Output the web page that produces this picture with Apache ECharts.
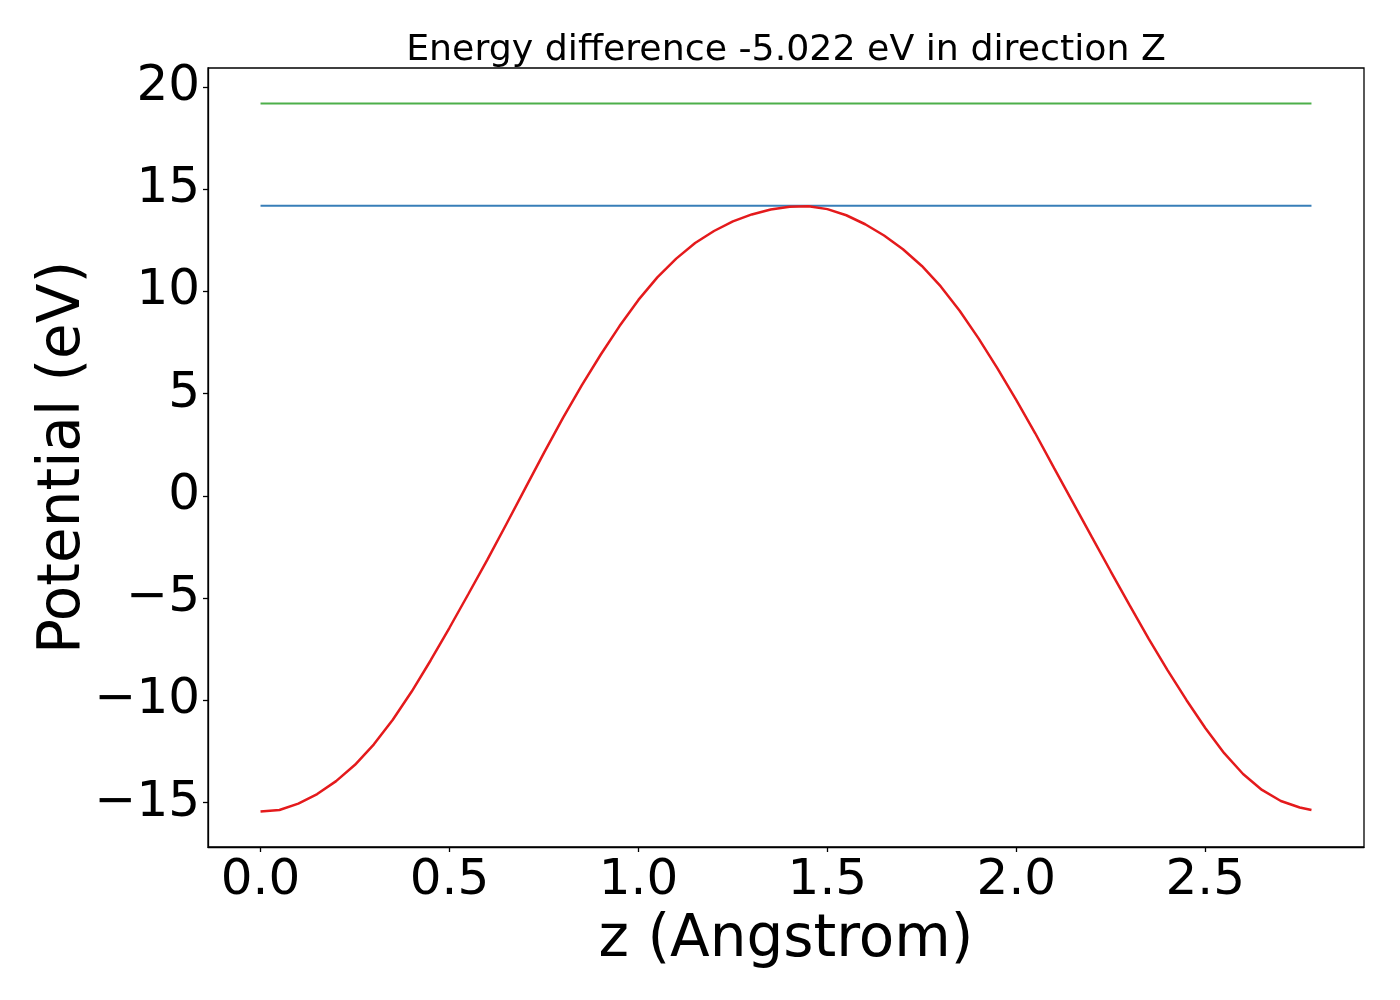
<!DOCTYPE html>
<html>
<head>
<meta charset="utf-8">
<script src="https://cdn.jsdelivr.net/npm/echarts@6/dist/echarts.min.js"></script>
<style>
  html, body { margin: 0; padding: 0; background: #fff; }
  #chart { width: 1400px; height: 1000px; }
</style>
</head>
<body>
<div id="chart"></div>
<script>
// z positions (Angstrom) and potential (eV)
var zPos = [0.00, 0.05, 0.10, 0.15, 0.20, 0.25, 0.30, 0.35, 0.40, 0.45,
            0.50, 0.55, 0.60, 0.65, 0.70, 0.75, 0.80, 0.85, 0.90, 0.95,
            1.00, 1.05, 1.10, 1.15, 1.20, 1.25, 1.30, 1.35, 1.40, 1.45,
            1.50, 1.55, 1.60, 1.65, 1.70, 1.75, 1.80, 1.85, 1.90, 1.95,
            2.00, 2.05, 2.10, 2.15, 2.20, 2.25, 2.30, 2.35, 2.40, 2.45,
            2.50, 2.55, 2.60, 2.65, 2.70, 2.75, 2.781];
var potential = [-15.44, -15.36, -15.05, -14.58, -13.95, -13.15, -12.15, -10.95, -9.57, -8.05,
                 -6.45, -4.80, -3.13, -1.40, 0.35, 2.10, 3.80, 5.40, 6.90, 8.30,
                 9.58, 10.68, 11.60, 12.36, 12.95, 13.42, 13.76, 14.00, 14.14, 14.16,
                 14.02, 13.72, 13.28, 12.73, 12.06, 11.24, 10.24, 9.05, 7.70, 6.23,
                 4.68, 3.06, 1.36, -0.33, -2.02, -3.70, -5.36, -6.98, -8.52, -9.98,
                 -11.35, -12.58, -13.60, -14.38, -14.92, -15.24, -15.36];
var barrierLevel = 14.18;
var startLevel = 19.19;
var xTicks = [0.0, 0.5, 1.0, 1.5, 2.0, 2.5];
var yTicks = [-15, -10, -5, 0, 5, 10, 15, 20];

var curve = zPos.map(function (z, i) { return [z, potential[i]]; });
var zEnd = zPos[zPos.length - 1];

var font = 'DejaVu Sans';
var chart = echarts.init(document.getElementById('chart'));

chart.setOption({
  animation: false,
  backgroundColor: '#fff',
  title: {
    text: 'Energy difference -5.022 eV in direction Z',
    left: 781,
    textAlign: 'center',
    top: 28,
    textStyle: { fontFamily: font, fontSize: 36.3, fontWeight: 'normal', color: '#000' }
  },
  grid: {
    left: 208, right: 36, top: 68, bottom: 153,
    show: true, borderColor: '#000', borderWidth: 1.3, backgroundColor: 'transparent'
  },
  xAxis: {
    type: 'value',
    min: -0.139, max: 2.920,
    name: 'z (Angstrom)',
    nameLocation: 'middle',
    nameGap: 65,
    nameMoveOverlap: false,
    nameTextStyle: { fontFamily: font, fontSize: 58, color: '#000' },
    axisLine: { show: true, onZero: false, lineStyle: { color: '#000', width: 1.3 } },
    axisTick: { show: true, inside: false, length: 5, customValues: xTicks, lineStyle: { color: '#000', width: 1.3 } },
    axisLabel: {
      customValues: xTicks,
      margin: 9,
      fontFamily: font, fontSize: 50, color: '#000',
      formatter: function (v) { return v.toFixed(1); }
    },
    splitLine: { show: false }
  },
  yAxis: {
    type: 'value',
    min: -17.17, max: 20.92,
    name: 'Potential (eV)',
    nameLocation: 'middle',
    nameGap: 115,
    nameRotate: 90,
    nameMoveOverlap: false,
    nameTextStyle: { fontFamily: font, fontSize: 58, color: '#000' },
    axisLine: { show: true, onZero: false, lineStyle: { color: '#000', width: 1.3 } },
    axisTick: { show: true, inside: false, length: 5, customValues: yTicks, lineStyle: { color: '#000', width: 1.3 } },
    axisLabel: {
      customValues: yTicks,
      margin: 8,
      fontFamily: font, fontSize: 50, color: '#000',
      formatter: function (v) { return v < 0 ? '\u2212' + Math.abs(v) : String(v); }
    },
    splitLine: { show: false }
  },
  series: [
    {
      type: 'line', name: 'start', data: [[0, startLevel], [zEnd, startLevel]],
      showSymbol: false, lineStyle: { color: '#4daf4a', width: 2 }
    },
    {
      type: 'line', name: 'barrier', data: [[0, barrierLevel], [zEnd, barrierLevel]],
      showSymbol: false, lineStyle: { color: '#377eb8', width: 2 }
    },
    {
      type: 'line', name: 'potential', data: curve,
      showSymbol: false, lineStyle: { color: '#e41a1c', width: 2.5 }
    }
  ]
});
</script>
</body>
</html>
